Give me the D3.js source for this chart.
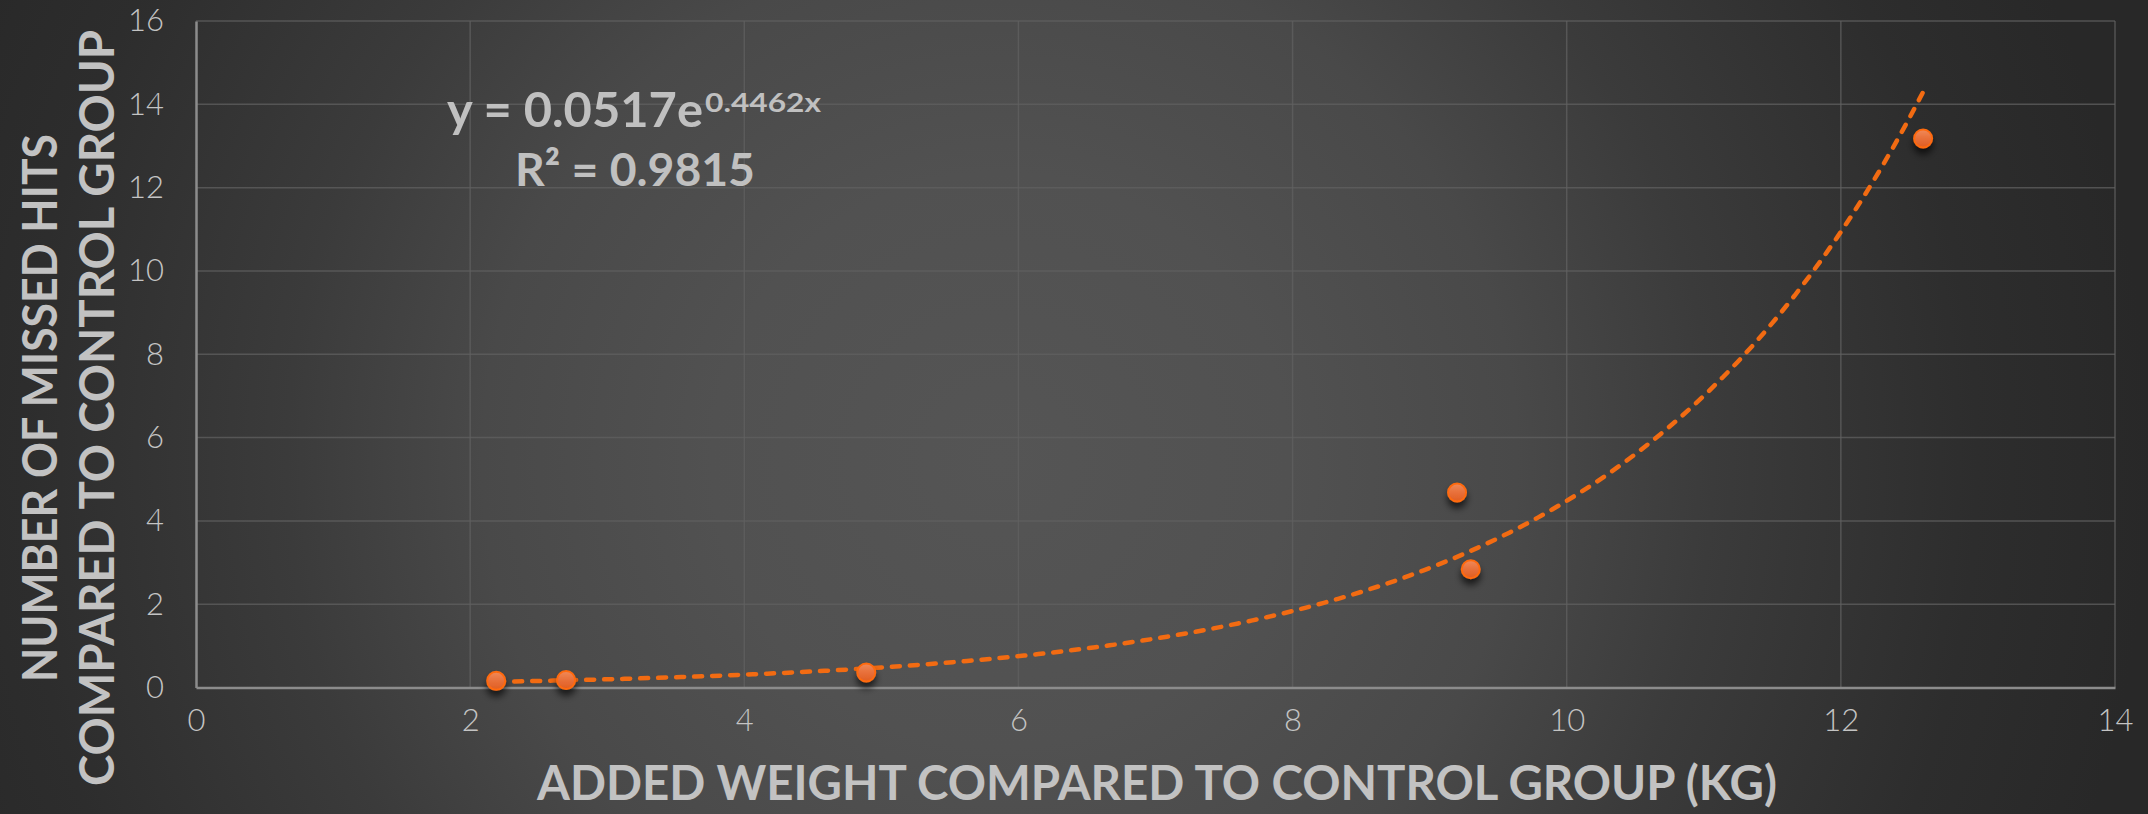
<!DOCTYPE html>
<html>
<head>
<meta charset="utf-8">
<script src="https://cdn.jsdelivr.net/npm/d3@7/dist/d3.min.js"></script>
<style>
  html, body { margin: 0; padding: 0; background: #2a2a2a; }
  svg { display: block; }
</style>
</head>
<body>
<svg id="chart" width="2148" height="814"></svg>
<script>
// Added weight (kg) vs. missed hits, both relative to the control group
const addedWeight = [2.19, 2.70, 4.89, 9.20, 9.30, 12.60];
const missedHits  = [0.16, 0.18, 0.36, 4.68, 2.84, 13.18];

// Exponential trendline y = a * e^(b x) and its fit quality
const trendA = 0.0517;
const trendB = 0.4462;
const trendR2 = 0.9815;

const xTicks = [0, 2, 4, 6, 8, 10, 12, 14];
const yTicks = [0, 2, 4, 6, 8, 10, 12, 14, 16];

const xTitle = "ADDED WEIGHT COMPARED TO CONTROL GROUP (KG)";
const yTitleLines = ["NUMBER OF MISSED HITS", "COMPARED TO CONTROL GROUP"];

const W = 2148, H = 814;
const plot = { left: 196, right: 2115, top: 21, bottom: 687.5 };

const svg = d3.select("#chart");
const defs = svg.append("defs");

// soft radial backdrop
const bg = defs.append("radialGradient")
  .attr("id", "bgGrad")
  .attr("gradientUnits", "userSpaceOnUse")
  .attr("cx", 1000).attr("cy", 460).attr("r", 1150);
[[0, "#555555"], [0.25, "#515151"], [0.45, "#494949"], [0.62, "#3b3b3b"], [0.85, "#2d2d2d"], [1, "#282828"]]
  .forEach(([o, c]) => bg.append("stop").attr("offset", o).attr("stop-color", c));

const dot = defs.append("linearGradient")
  .attr("id", "dotGrad").attr("x1", 0).attr("y1", 0).attr("x2", 0).attr("y2", 1);
dot.append("stop").attr("offset", 0).attr("stop-color", "#f08a5a");
dot.append("stop").attr("offset", 0.5).attr("stop-color", "#e8703a");
dot.append("stop").attr("offset", 1).attr("stop-color", "#e05e22");

const shadow = defs.append("filter").attr("id", "dotShadow")
  .attr("x", "-100%").attr("y", "-100%").attr("width", "300%").attr("height", "300%");
shadow.append("feDropShadow")
  .attr("dx", 0).attr("dy", 6).attr("stdDeviation", 3.5)
  .attr("flood-color", "#000").attr("flood-opacity", 0.65);

svg.append("rect").attr("width", W).attr("height", H).attr("fill", "url(#bgGrad)");

const x = d3.scaleLinear().domain([0, 14]).range([plot.left, plot.right]);
const y = d3.scaleLinear().domain([0, 16]).range([plot.bottom, plot.top]);

const labelFont = "Lato, 'Open Sans', sans-serif";

// gridlines
const grid = svg.append("g");
grid.selectAll("line.gy").data(yTicks.slice(1)).join("line")
  .attr("x1", plot.left).attr("x2", plot.right)
  .attr("y1", d => y(d)).attr("y2", d => y(d))
  .attr("stroke", "#606060").attr("stroke-width", 1.5).attr("stroke-opacity", 0.75);
grid.selectAll("line.gx").data(xTicks.slice(1)).join("line")
  .attr("y1", plot.top).attr("y2", plot.bottom)
  .attr("x1", d => x(d)).attr("x2", d => x(d))
  .attr("stroke", "#606060").attr("stroke-width", 1.5).attr("stroke-opacity", 0.75);

// axes
const xAxis = svg.append("g")
  .attr("transform", `translate(0,${plot.bottom})`)
  .call(d3.axisBottom(x).tickValues(xTicks).tickSize(0).tickPadding(40).tickFormat(d3.format("d")));
const yAxis = svg.append("g")
  .attr("transform", `translate(${plot.left},0)`)
  .call(d3.axisLeft(y).tickValues(yTicks).tickSize(0).tickPadding(32).tickFormat(d3.format("d")));

[xAxis, yAxis].forEach(g => {
  g.select(".domain").attr("stroke", "#8c8c8c").attr("stroke-width", 2.5);
  g.selectAll("text")
    .attr("fill", "#c4c4c4")
    .style("font-family", labelFont)
    .style("font-weight", 300)
    .style("font-size", "31px");
});
xAxis.selectAll("text").attr("dy", "0.1em");

// exponential trendline across the data range
const xMin = d3.min(addedWeight), xMax = d3.max(addedWeight);
const trendPts = d3.range(0, 101).map(i => {
  const xv = xMin + (xMax - xMin) * i / 100;
  return [xv, trendA * Math.exp(trendB * xv)];
});
svg.append("path")
  .datum(trendPts)
  .attr("d", d3.line().x(d => x(d[0])).y(d => y(d[1])))
  .attr("fill", "none")
  .attr("stroke", "#f26b12")
  .attr("stroke-width", 4.5)
  .attr("stroke-linecap", "round")
  .attr("stroke-dasharray", "8,10");

// data points
svg.append("g").selectAll("circle")
  .data(addedWeight.map((w, i) => [w, missedHits[i]]))
  .join("circle")
  .attr("cx", d => x(d[0]))
  .attr("cy", d => y(d[1]))
  .attr("r", 9)
  .attr("fill", "url(#dotGrad)")
  .attr("stroke", "#ff6a10")
  .attr("stroke-width", 2)
  .attr("filter", "url(#dotShadow)");

// trendline equation
const titleFont = "Lato, 'Open Sans', sans-serif";
const eq = svg.append("text")
  .attr("x", 447).attr("y", 127)
  .attr("fill", "#c0c0c0")
  .style("font-family", titleFont)
  .style("font-weight", 700)
  .style("font-size", "48px");
eq.append("tspan")
  .attr("textLength", 256).attr("lengthAdjust", "spacingAndGlyphs")
  .text(`y = ${trendA}e`);
eq.append("tspan").attr("dy", -15).attr("dx", 2)
  .attr("textLength", 116).attr("lengthAdjust", "spacingAndGlyphs")
  .style("font-size", "26px").text(`${trendB}x`);

svg.append("text")
  .attr("x", 515).attr("y", 186)
  .attr("fill", "#c0c0c0")
  .attr("textLength", 240).attr("lengthAdjust", "spacingAndGlyphs")
  .style("font-family", titleFont)
  .style("font-weight", 700)
  .style("font-size", "46px")
  .text(`R² = ${trendR2}`);

// axis titles
svg.append("text")
  .attr("x", 1157).attr("y", 800)
  .attr("text-anchor", "middle")
  .attr("fill", "#c2c2c2")
  .attr("textLength", 1240).attr("lengthAdjust", "spacingAndGlyphs")
  .style("font-family", titleFont)
  .style("font-weight", 700)
  .style("font-size", "47px")
  .text(xTitle);

const yTitleWidths = [548, 756];
const yTitleX = [57, 114];
yTitleLines.forEach((t, i) => {
  svg.append("text")
    .attr("transform", `translate(${yTitleX[i]},408) rotate(-90)`)
    .attr("text-anchor", "middle")
    .attr("fill", "#c2c2c2")
    .attr("textLength", yTitleWidths[i]).attr("lengthAdjust", "spacingAndGlyphs")
    .style("font-family", titleFont)
    .style("font-weight", 700)
    .style("font-size", "48px")
    .text(t);
});
</script>
</body>
</html>
